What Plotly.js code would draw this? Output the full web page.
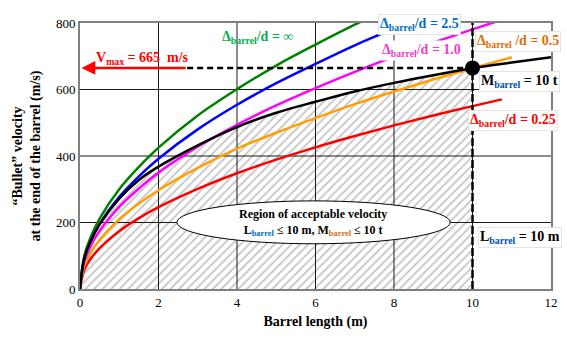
<!DOCTYPE html>
<html>
<head>
<meta charset="utf-8">
<script src="https://cdn.plot.ly/plotly-3.0.1.min.js"></script>
<style>html,body{margin:0;padding:0;background:#fff;}</style>
</head>
<body>
<div id="chart" style="width:567px;height:348px;"></div>
<script>
// ---- data ----
const lengthM = [0, 0.1, 0.25, 0.5, 1, 1.5, 2, 3, 4, 5, 6, 7, 8, 9, 10, 11, 12];

const vInf   = [0, 95, 150, 212, 300, 367, 425, 522, 601, 672, 735, 795, 850];          // Δ/d = ∞
const v2_5   = [0, 88, 139, 196, 277, 339, 392, 480, 554, 619, 677, 733, 783];          // Δ/d = 2.5 (ends at 8 m)
const v1_0   = [0, 78, 124, 175, 247, 302, 350, 428, 494, 552, 604, 653, 699, 741, 781, 819, 856]; // Δ/d = 1.0
const v0_5   = [0, 66, 105, 148, 210, 257, 297, 364, 422, 470, 514, 556, 594, 630, 664, 697];      // Δ/d = 0.5
const v0_25  = [0, 55, 87, 123, 174, 213, 246, 301, 348, 389, 426, 460, 492, 522, 550, 577];       // Δ/d = 0.25
const vM10   = [0, 88, 138, 195, 272, 328, 368, 432, 487, 530, 563, 594, 620, 643, 664, 681, 697]; // M = 10 t

const orangeEnd = 11.3;   // orange line hidden under its label beyond here
const redEnd = 10.75;     // red line hidden under its label beyond here
const vMax = 665;
const lBarrel = 10;
const vmaxArrowTail = 2.73;

const xTicks = [0, 2, 4, 6, 8, 10, 12];
const yTicks = [0, 200, 400, 600, 800];

// helpers
function cut(xs, ys, xmax) {
  const ox = [], oy = [];
  for (let i = 0; i < ys.length; i++) {
    if (xs[i] <= xmax) { ox.push(xs[i]); oy.push(ys[i]); }
    else if (i > 0 && xs[i-1] < xmax) {
      const t = (xmax - xs[i-1]) / (xs[i] - xs[i-1]);
      ox.push(xmax); oy.push(ys[i-1] + t * (ys[i] - ys[i-1]));
      break;
    }
  }
  return [ox, oy];
}

const FONT = 'Liberation Serif, Times New Roman, serif';
const [hx, hy] = cut(lengthM, vM10, lBarrel);
const [ox, oy] = cut(lengthM, v0_5, orangeEnd);
const [rx, ry] = cut(lengthM, v0_25, redEnd);

const xMin = xTicks[0], xMax = xTicks[xTicks.length - 1];
const yMin = yTicks[0], yMax = yTicks[yTicks.length - 1];

// grid lines as line traces, drawn above the hatch but beneath the curves
const gx = [], gy = [];
xTicks.slice(1, -1).forEach(v => { gx.push(v, v, null); gy.push(yMin, yMax, null); });
yTicks.slice(1, -1).forEach(v => { gx.push(xMin, xMax, null); gy.push(v, v, null); });

const lw = 2.5;
const traces = [
  { x: hx, y: hy, mode: 'lines', line: {width: 0, color: 'rgba(0,0,0,0)'}, fill: 'tozeroy',
    fillcolor: 'rgba(0,0,0,0)',
    fillpattern: {shape: '/', fgcolor: '#c4c4c4', bgcolor: 'rgba(0,0,0,0)', size: 6, solidity: 0.3},
    hoverinfo: 'skip' },
  { x: gx, y: gy, mode: 'lines', line: {color: '#1a1a1a', width: 1}, connectgaps: false, hoverinfo: 'skip' },
  { x: rx, y: ry, mode: 'lines', line: {color: '#ff0000', width: lw, shape: 'spline'} },
  { x: ox, y: oy, mode: 'lines', line: {color: '#ffa000', width: lw, shape: 'spline'} },
  { x: lengthM, y: v1_0, mode: 'lines', line: {color: '#ff00ff', width: lw, shape: 'spline'} },
  { x: lengthM.slice(0, v2_5.length), y: v2_5, mode: 'lines', line: {color: '#0000ff', width: lw, shape: 'spline'} },
  { x: lengthM.slice(0, vInf.length), y: vInf, mode: 'lines', line: {color: '#008000', width: lw, shape: 'spline'} },
  { x: lengthM, y: vM10, mode: 'lines', line: {color: '#000000', width: lw, shape: 'spline'} },
  { x: [lBarrel], y: [vMax], mode: 'markers', marker: {color: '#000', size: 15} }
];

const sub = (t, c) => `<sub><span style="color:${c}">${t}</span></sub>`;
function lab(x, y, text, color, opts) {
  return Object.assign({
    x, y, xref: 'x', yref: 'y', text: `<b>${text}</b>`, showarrow: false,
    font: {family: FONT, size: 14, color}, bgcolor: '#ffffff', bordercolor: '#e4e4e4', borderwidth: 1, borderpad: 1
  }, opts || {});
}

const annotations = [
  lab(4.53, 757, 'Δ' + sub('barrel', '#00b050') + '/d = ∞', '#00b050', {bgcolor: 'rgba(0,0,0,0)', bordercolor: 'rgba(0,0,0,0)'}),
  lab(8.66, 826 / 800, 'Δ' + sub('barrel', '#0070c0') + '/d = 2.5', '#0070c0', {yref: 'paper'}),
  lab(8.70, 718, 'Δ' + sub('barrel', '#f23cd0') + '/d = 1.0', '#f23cd0', {bordercolor: 'rgba(0,0,0,0)'}),
  lab(11.16, 743, 'Δ' + sub('barrel', '#e36c09') + ' /d = 0.5', '#e36c09'),
  lab(11.2, 623, 'M' + sub('barrel', '#0050b0') + ' = 10 t', '#000000'),
  lab(11.03, 508, 'Δ' + sub('barrel', '#ff0000') + '/d = 0.25', '#ff0000'),
  lab(11.21, 154, 'L' + sub('barrel', '#0050b0') + ' = 10 m', '#000000'),
  lab(1.58, 694, 'V' + sub('max', '#ff0000') + ' = 665  m/s', '#ff0000', {bgcolor: 'rgba(0,0,0,0)', bordercolor: 'rgba(0,0,0,0)'}),
  { x: 0.04, y: vMax, ax: vmaxArrowTail, ay: vMax, xref: 'x', yref: 'y', axref: 'x', ayref: 'y',
    text: '', showarrow: true, arrowcolor: '#ff0000', arrowwidth: 2.5, arrowhead: 2, arrowsize: 1.1 },
  { x: 5.94, y: 200, xref: 'x', yref: 'y', showarrow: false,
    text: '<b>Region of acceptable velocity</b><br><b>L' + sub('barrel', '#0070c0') + ' ≤ 10 m, M' + sub('barrel', '#d07010') + ' ≤ 10 t</b>',
    font: {family: FONT, size: 12, color: '#000'} }
];

const shapes = [
  { type: 'line', xref: 'x', yref: 'y', x0: vmaxArrowTail, x1: lBarrel, y0: vMax, y1: vMax,
    line: {color: '#000', width: 2.5, dash: '6px,4px'} },
  { type: 'line', xref: 'x', yref: 'y', x0: lBarrel, x1: lBarrel, y0: yMin, y1: yMax,
    line: {color: '#000', width: 2.5, dash: '8px,3px'} },
  { type: 'circle', xref: 'x', yref: 'y', x0: 2.47, x1: 9.43, y0: 136, y1: 265,
    fillcolor: '#ffffff', line: {color: '#000', width: 1}, layer: 'above' }
];

const layout = {
  width: 567, height: 348,
  margin: {l: 80, r: 16, t: 23, b: 59},
  paper_bgcolor: '#fff', plot_bgcolor: '#fff',
  showlegend: false,
  font: {family: FONT, size: 13, color: '#000'},
  xaxis: {
    range: [xMin, xMax], tickvals: xTicks, ticktext: xTicks.map(String),
    showgrid: false, zeroline: false,
    showline: true, linecolor: '#808080', linewidth: 2, mirror: true, ticks: '',
    tickfont: {family: FONT, size: 13}, fixedrange: true,
    title: {text: '<b>Barrel length (m)</b>', font: {family: FONT, size: 14}, standoff: 8}
  },
  yaxis: {
    range: [yMin, yMax], tickvals: yTicks, ticktext: yTicks.map(String),
    showgrid: false, zeroline: false,
    showline: true, linecolor: '#808080', linewidth: 2, mirror: true, ticks: '',
    tickfont: {family: FONT, size: 13}, fixedrange: true,
    title: {text: '<b>“Bullet” velocity<br>at the end of the barrel (m/s)</b>', font: {family: FONT, size: 14}, standoff: 12}
  },
  shapes, annotations
};

Plotly.newPlot('chart', traces, layout, {displayModeBar: false, staticPlot: true});
</script>
</body>
</html>
